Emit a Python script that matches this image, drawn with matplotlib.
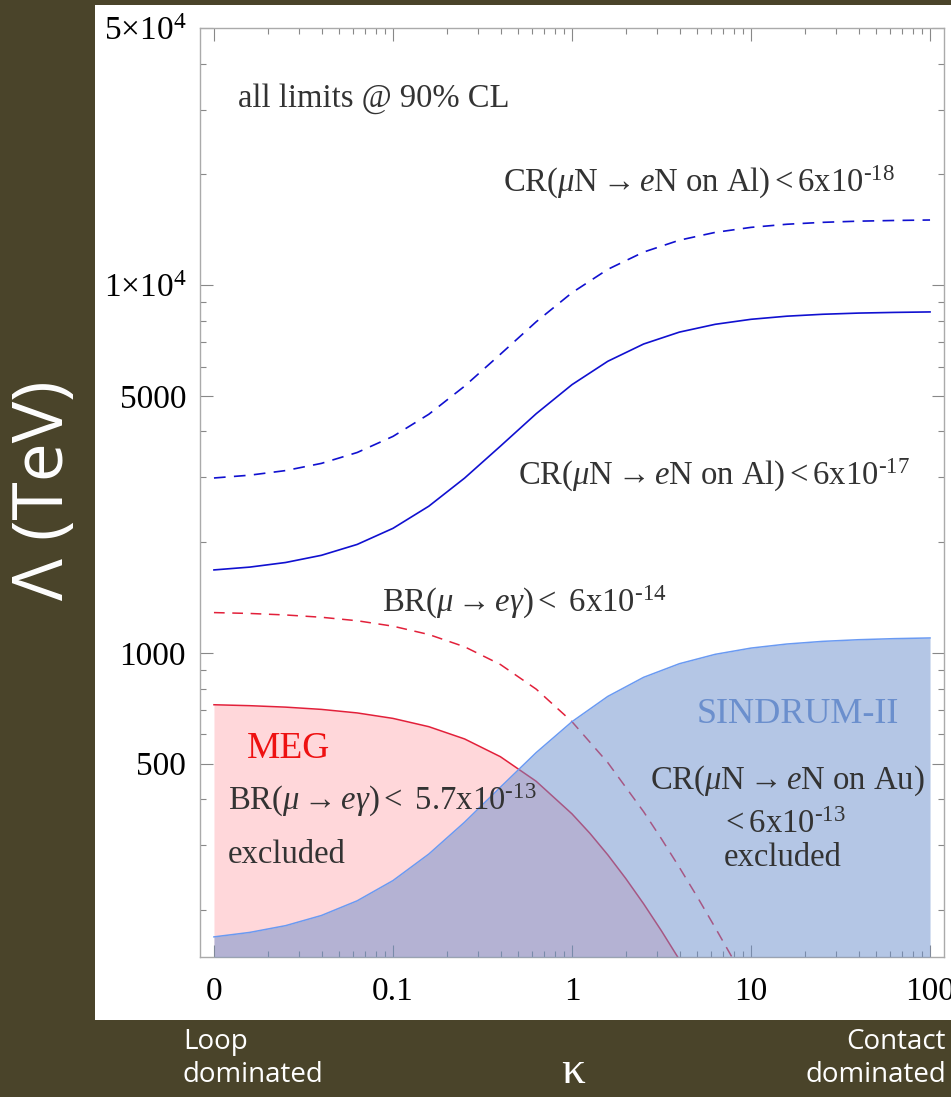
import matplotlib
matplotlib.use("Agg")
import matplotlib.pyplot as plt
from matplotlib.patches import Rectangle
from matplotlib.ticker import FixedLocator, NullFormatter

plt.rcParams['font.family'] = ['Liberation Serif', 'DejaVu Serif']
plt.rcParams['mathtext.fontset'] = 'custom'
plt.rcParams['mathtext.rm'] = 'Liberation Serif'
plt.rcParams['mathtext.it'] = 'Liberation Serif:italic'
plt.rcParams['mathtext.bf'] = 'Liberation Serif:bold'

# kappa sample points (the "0" tick sits at kappa = 0.01)
kappa = [0.01, 0.01585, 0.02512, 0.03981, 0.0631, 0.1, 0.1585, 0.2512, 0.3981,
         0.631, 1.0, 1.585, 2.512, 3.981, 6.31, 10, 15.85, 25.12, 39.81, 63.1, 100]

# CR(mu N -> e N on Al) < 6e-17 (solid blue) and < 6e-18 (dashed blue), Lambda in TeV
al_17 = [1681, 1711, 1761, 1842, 1972, 2181, 2505, 2987, 3648, 4470, 5362,
         6207, 6915, 7450, 7823, 8072, 8231, 8330, 8392, 8428, 8453]
al_18 = [2989, 3042, 3131, 3275, 3506, 3878, 4454, 5311, 6486, 7948, 9534,
         11036, 12295, 13246, 13909, 14352, 14635, 14811, 14921, 14985, 15030]

# SINDRUM-II (Au) < 6e-13, upper edge of excluded region
au_13 = [169.0, 173.8, 181.3, 193.2, 211.8, 240.4, 283.8, 346.5, 431.3, 535.7,
         650.1, 761.5, 858.2, 934.6, 991.1, 1030.6, 1057.1, 1074.8, 1086.0,
         1093.3, 1098.0]

# MEG excluded (solid red) and BR < 6e-14 (dashed red)
meg_kappa = [0.01, 0.01585, 0.02512, 0.03981, 0.0631, 0.1, 0.1585, 0.2512,
             0.3981, 0.631, 1.0, 1.259, 1.585, 1.995, 2.512, 3.162, 3.981, 4.467]
meg_13 = [722.8, 718.6, 712.1, 702.1, 686.7, 663.6, 630.1, 583.5, 522.1, 447.6,
          365.0, 323.2, 282.4, 243.7, 207.9, 175.4, 146.5, 133.5]
meg2_kappa = [0.01, 0.01585, 0.02512, 0.03981, 0.0631, 0.1, 0.1585, 0.2512,
              0.3981, 0.631, 1.0, 1.585, 2.512, 3.162, 3.981, 5.012, 6.31,
              7.943, 8.913]
meg_14 = [1287, 1280, 1268, 1250, 1223, 1182, 1122, 1039, 930, 797, 650, 503,
          370, 312, 261, 217, 179, 147, 134]

xticks = [0.01, 0.1, 1, 10, 100]
xlabels = ['0', '0.1', '1', '10', '100']
yticks = [500, 1000, 5000, 1e4, 5e4]
ylabels = ['500', '1000', '5000', r'$1{\times}10^4$', r'$5{\times}10^4$']

bg = '#4a442a'
txt = '#333333'
fig = plt.figure(figsize=(9.51, 10.97), dpi=100, facecolor=bg)
fig.patches.append(Rectangle((95/951, 1-1020/1097), (951-95)/951, (1020-5)/1097,
                             transform=fig.transFigure, facecolor='white',
                             edgecolor='none', zorder=-5))

ax = fig.add_axes([200/951, 1-957/1097, 744/951, (957-28)/1097])
ax.set_zorder(2)
ax.set_xscale('log')
ax.set_yscale('log')
ymin = 149

ax.fill_between(meg_kappa, meg_13, ymin, color='#ffd7da', lw=0, zorder=1)
ax.plot(meg_kappa, meg_13, color='#e2203a', lw=1.1, zorder=2)
ax.plot(meg2_kappa, meg_14, color='#e2203a', lw=1.1, dashes=(7, 5), zorder=2)
ax.fill_between(kappa, au_13, ymin, color='#6b8fcd', alpha=0.5, lw=0, zorder=3)
ax.plot(kappa, au_13, color='#6a9af2', lw=1.1, zorder=4)
ax.plot(kappa, al_17, color='#1010d0', lw=1.2, zorder=4)
ax.plot(kappa, al_18, color='#1010d0', lw=1.2, dashes=(7, 5), zorder=4)

ax.set_xlim(10**-2.078, 10**2.078)
ax.set_ylim(ymin, 5e4)

ax.xaxis.set_major_locator(FixedLocator(xticks))
ax.set_xticklabels(xlabels)
xminor = [m * 10.0**e for e in range(-2, 2) for m in range(2, 10)]
ax.xaxis.set_minor_locator(FixedLocator(xminor))
ax.xaxis.set_minor_formatter(NullFormatter())
ax.yaxis.set_major_locator(FixedLocator(yticks))
ax.set_yticklabels(ylabels)
yminor = [m * 10.0**e for e in range(2, 5) for m in range(2, 10)]
ax.yaxis.set_minor_locator(FixedLocator(yminor))
ax.yaxis.set_minor_formatter(NullFormatter())

ax.tick_params(which='both', direction='in', top=True, right=True,
               color='#888888', labelsize=24, labelcolor='black')
ax.tick_params(which='major', length=9, width=0.8, pad=14)
ax.tick_params(which='minor', length=4, width=0.8)
ax.tick_params(axis='y', pad=10)
for s in ax.spines.values():
    s.set_color('#aaaaaa')
    s.set_linewidth(1.0)

def t(x, y, s, **kw):
    kw.setdefault('color', txt)
    kw.setdefault('fontsize', 23.5)
    fig.text(x/951, 1-y/1097, s, va='baseline', zorder=5, **kw)

t(238, 107, 'all limits @ 90% CL')
t(503, 192, r'CR($\mu$N$\rightarrow$$e$N on Al)$<$6x10$^{‐18}$')
t(518, 485, r'CR($\mu$N$\rightarrow$$e$N on Al)$<$6x10$^{‐17}$')
t(382, 612, r'BR($\mu$$\rightarrow$$e\gamma$)$<$ 6x10$^{‐14}$')
t(247, 758, 'MEG', color='#ee1111', fontsize=27)
t(228, 810, r'BR($\mu$$\rightarrow$$e\gamma$)$<$ 5.7x10$^{‐13}$')
t(228, 863, 'excluded')
t(697, 723, 'SINDRUM-II', color='#6b8fcd', fontsize=26)
t(650, 789, r'CR($\mu$N$\rightarrow$$e$N on Au)')
t(783, 833, r'$<$6x10$^{‐13}$', ha='center')
t(783, 866, 'excluded', ha='center')

fig.text(45/951, 1-490/1097, 'Λ (TeV)', rotation=90, color='white',
         fontsize=50, family='Open Sans', ha='center', va='center')
fig.text(573/951, 1-1072/1097, 'κ', color='white', fontsize=34,
         ha='center', va='center')
fig.text(183/951, 1-1028/1097, 'Loop\ndominated', color='white', fontsize=20,
         family='Open Sans', ha='left', va='top', linespacing=1.25)
fig.text(946/951, 1-1028/1097, 'Contact\ndominated', color='white', fontsize=20,
         family='Open Sans', ha='right', va='top', linespacing=1.25,
         multialignment='right')

fig.savefig('out.png', dpi=100, facecolor=bg)
